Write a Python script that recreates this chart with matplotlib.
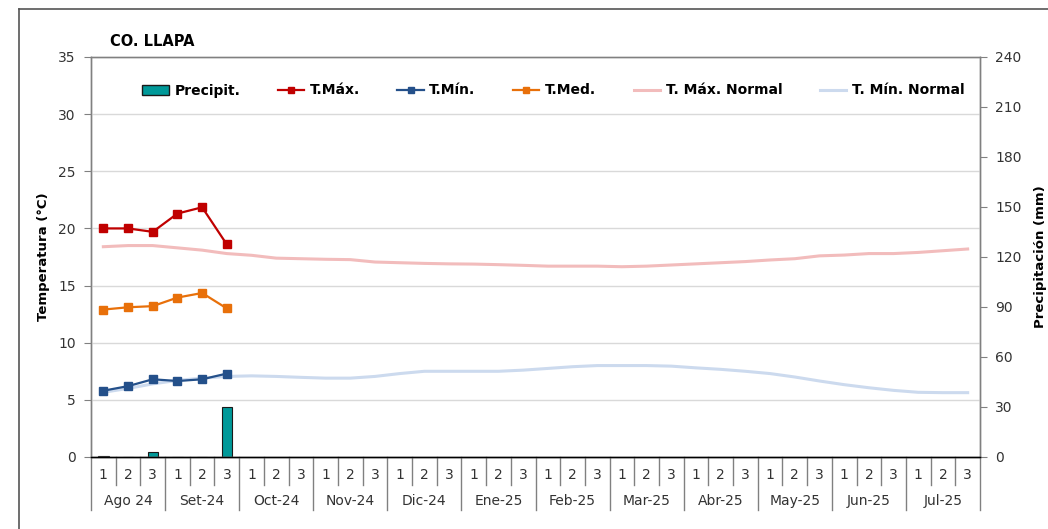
import matplotlib.pyplot as plt
from matplotlib.lines import Line2D
from matplotlib.patches import Patch

plt.rcParams['font.family'] = ['DejaVu Sans']

station = 'CO. LLAPA'
months = ['Ago 24', 'Set-24', 'Oct-24', 'Nov-24', 'Dic-24', 'Ene-25',
          'Feb-25', 'Mar-25', 'Abr-25', 'May-25', 'Jun-25', 'Jul-25']
dekads = ['1', '2', '3']

# observed (first 6 dekads)
precip = [0.5, 0.0, 2.8, 0.0, 0.0, 30.2]
tmax = [20.0, 20.0, 19.7, 21.3, 21.85, 18.6]
tmin = [5.8, 6.2, 6.8, 6.65, 6.8, 7.3]
tmed = [12.9, 13.1, 13.2, 13.95, 14.35, 13.0]

# normals (36 dekads)
tmax_norm = [18.4, 18.5, 18.5, 18.3, 18.1, 17.8, 17.65, 17.4, 17.35, 17.3, 17.27, 17.06,
             17.0, 16.94, 16.9, 16.88, 16.83, 16.77, 16.7, 16.7, 16.7, 16.65, 16.7, 16.8,
             16.9, 17.0, 17.1, 17.24, 17.35, 17.6, 17.67, 17.8, 17.8, 17.9, 18.05, 18.2]
tmin_norm = [5.66, 6.0, 6.4, 6.7, 6.9, 7.05, 7.1, 7.05, 6.97, 6.9, 6.9, 7.05,
             7.3, 7.5, 7.5, 7.5, 7.5, 7.6, 7.75, 7.9, 8.0, 8.0, 8.0, 7.95,
             7.8, 7.67, 7.5, 7.3, 7.0, 6.65, 6.33, 6.06, 5.83, 5.66, 5.63, 5.63]

n = len(months) * len(dekads)
x_all = [i + 0.5 for i in range(n)]
x_obs = x_all[:len(tmax)]

fig = plt.figure(figsize=(10.48, 5.29), dpi=100)
ax = fig.add_axes([91 / 1048, 1 - 457 / 529, 889 / 1048, 400 / 529])
ax2 = ax.twinx()
ax.set_zorder(ax2.get_zorder() + 1)
ax.patch.set_visible(False)

# precipitation bars on right axis
ax2.bar(x_obs, precip, width=0.42, color='#009999', edgecolor='#1a1a1a', linewidth=0.8)
ax2.set_ylim(0, 240)
ax2.set_yticks(range(0, 241, 30))

ax.plot(x_all, tmax_norm, color='#F2BCBC', lw=2.2, zorder=2)
ax.plot(x_all, tmin_norm, color='#CCDAEE', lw=2.2, zorder=2)
ax.plot(x_obs, tmax, color='#C00000', lw=1.6, marker='s', ms=6, zorder=3)
ax.plot(x_obs, tmed, color='#E8700A', lw=1.6, marker='s', ms=6, zorder=3)
ax.plot(x_obs, tmin, color='#24508A', lw=1.6, marker='s', ms=6, zorder=3)

ax.set_xlim(0, n)
ax.set_ylim(0, 35)
ax.set_yticks(range(0, 36, 5))
ax.grid(axis='y', color='#D9D9D9', lw=1)
ax.set_axisbelow(True)
ax.set_xticks([])

for a in (ax, ax2):
    a.tick_params(axis='y', direction='out', length=5, color='#808080',
                  labelsize=10, labelcolor='#333333', pad=6)
    for s in a.spines.values():
        s.set_color('#808080')
        s.set_linewidth(1)
ax.spines['bottom'].set_color('black')
ax2.spines['bottom'].set_color('black')
ax2.spines['top'].set_color('#A0A0A0')

ax.set_ylabel('Temperatura (°C)', fontsize=9.5, fontweight='bold', labelpad=6)
ax2.set_ylabel('Precipitación (mm)', fontsize=9.5, fontweight='bold', labelpad=9)

# multi-level category axis
tr = ax.get_xaxis_transform()
for i in range(n):
    ax.text(x_all[i], -0.045, dekads[i % 3], transform=tr, ha='center', va='center',
            fontsize=10, color='#333333')
    if i % 3 != 0:
        ax.plot([i, i], [0, -0.07], transform=tr, color='#808080', lw=1, clip_on=False)
for m, name in enumerate(months):
    ax.text(m * 3 + 1.5, -0.11, name, transform=tr, ha='center', va='center',
            fontsize=10, color='#333333')
for m in range(len(months) + 1):
    ax.plot([m * 3, m * 3], [0, -0.1325], transform=tr, color='#808080', lw=1, clip_on=False)

fig.text(110 / 1048, 1 - 41 / 529, station, fontsize=10.5, fontweight='bold', va='center')

# outer chart border
fig.add_artist(Line2D([19 / 1048, 19 / 1048], [0, 1 - 9 / 529], color='#555555', lw=1.2))
fig.add_artist(Line2D([19 / 1048, 1], [1 - 9 / 529, 1 - 9 / 529], color='#555555', lw=1.2))

handles = [
    Patch(facecolor='#009999', edgecolor='#1a1a1a', label='Precipit.'),
    Line2D([], [], color='#C00000', lw=1.6, marker='s', ms=5, label='T.Máx.'),
    Line2D([], [], color='#24508A', lw=1.6, marker='s', ms=5, label='T.Mín.'),
    Line2D([], [], color='#E8700A', lw=1.6, marker='s', ms=5, label='T.Med.'),
    Line2D([], [], color='#F2BCBC', lw=2.2, label='T. Máx. Normal'),
    Line2D([], [], color='#CCDAEE', lw=2.2, label='T. Mín. Normal'),
]
ax.legend(handles=handles, ncol=6, loc='upper center', bbox_to_anchor=(0.52, 0.965),
          frameon=False, prop={'weight': 'bold', 'size': 10}, handlelength=1.9,
          handletextpad=0.4, columnspacing=2.7)

fig.savefig('out.png', dpi=100)
